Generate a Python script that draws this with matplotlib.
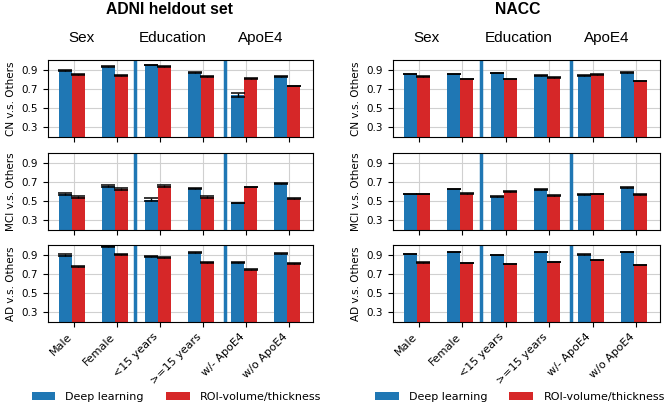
import matplotlib
matplotlib.use("Agg")
import matplotlib.pyplot as plt
import numpy as np

groups = ["Male", "Female", "<15 years", ">=15 years", "w/- ApoE4", "w/o ApoE4"]
tasks = ["CN v.s. Others", "MCI v.s. Others", "AD v.s. Others"]

# ADNI heldout set (rows: CN, MCI, AD)
adni_dl = [[0.89, 0.93, 0.95, 0.87, 0.64, 0.83],
           [0.575, 0.655, 0.515, 0.633, 0.48, 0.685],
           [0.90, 0.985, 0.885, 0.92, 0.82, 0.91]]
adni_dl_err = [[0.005, 0.003, 0.003, 0.006, 0.02, 0.006],
               [0.012, 0.012, 0.018, 0.004, 0.003, 0.004],
               [0.01, 0.004, 0.005, 0.004, 0.006, 0.006]]
adni_roi = [[0.85, 0.84, 0.935, 0.83, 0.81, 0.73],
            [0.545, 0.63, 0.66, 0.545, 0.645, 0.527],
            [0.775, 0.905, 0.87, 0.82, 0.745, 0.81]]
adni_roi_err = [[0.004, 0.006, 0.005, 0.008, 0.005, 0.002],
                [0.01, 0.01, 0.012, 0.01, 0.003, 0.003],
                [0.004, 0.005, 0.005, 0.003, 0.005, 0.003]]

# NACC
nacc_dl = [[0.855, 0.855, 0.865, 0.84, 0.84, 0.87],
           [0.577, 0.623, 0.545, 0.623, 0.57, 0.64],
           [0.907, 0.925, 0.894, 0.925, 0.90, 0.925]]
nacc_dl_err = [[0.003, 0.003, 0.002, 0.002, 0.002, 0.002],
               [0.002, 0.002, 0.005, 0.005, 0.002, 0.003],
               [0.002, 0.002, 0.002, 0.002, 0.002, 0.002]]
nacc_roi = [[0.83, 0.80, 0.80, 0.82, 0.85, 0.785],
            [0.577, 0.577, 0.60, 0.555, 0.577, 0.57],
            [0.82, 0.81, 0.80, 0.825, 0.845, 0.79]]
nacc_roi_err = [[0.002, 0.002, 0.002, 0.002, 0.002, 0.002],
                [0.002, 0.006, 0.006, 0.004, 0.002, 0.002],
                [0.002, 0.002, 0.002, 0.002, 0.002, 0.002]]

datasets = [("ADNI heldout set", adni_dl, adni_dl_err, adni_roi, adni_roi_err),
            ("NACC", nacc_dl, nacc_dl_err, nacc_roi, nacc_roi_err)]

W, H = 669, 403
fig = plt.figure(figsize=(W / 100, H / 100), dpi=100)

col_left = [48, 393]
col_width = [265, 267]
row_top = [60, 153, 245]
row_h = 77
title_x = [170, 518]
legend_x = [0.485, 0.475]

x = np.arange(len(groups))
w = 0.3
ekw = dict(ecolor="black", elinewidth=1, capthick=1.1)
for c, (name, dl, dl_err, roi, roi_err) in enumerate(datasets):
    for r in range(3):
        ax = fig.add_axes([col_left[c] / W, 1 - (row_top[r] + row_h) / H,
                           col_width[c] / W, row_h / H])
        ax.set_axisbelow(True)
        ax.grid(True, color="#d0d0d0", linewidth=0.8)
        ax.bar(x - 0.2, dl[r], w, yerr=dl_err[r], color="tab:blue",
               capsize=5, error_kw=ekw, label="Deep learning")
        ax.bar(x + 0.1, roi[r], w, yerr=roi_err[r], color="tab:red",
               capsize=5, error_kw=ekw, label="ROI-volume/thickness")
        ax.axvline(1.43, color="tab:blue", linewidth=2.5)
        ax.axvline(3.5, color="tab:blue", linewidth=2.5)
        ax.set_xlim(-0.6, 5.55)
        ax.set_ylim(0.2, 1.0)
        ax.set_yticks([0.3, 0.5, 0.7, 0.9])
        ax.tick_params(axis="y", labelsize=7.5)
        ax.set_xticks(x)
        ax.set_ylabel(tasks[r], fontsize=7.5)
        if r < 2:
            ax.set_xticklabels([])
        else:
            ax.set_xticklabels(groups, rotation=45, ha="right", fontsize=8)
            ax.legend(loc="center", bbox_to_anchor=(legend_x[c], -0.97), ncol=2,
                      frameon=False, fontsize=8, handlelength=2.15,
                      handletextpad=0.9, columnspacing=2.0)
        if r == 0:
            for xpos, lab in [(0.17, "Sex"), (2.3, "Education"), (4.33, "ApoE4")]:
                ax.text(xpos, 1.29, lab, transform=ax.get_xaxis_transform(),
                        ha="center", va="center", fontsize=11,
                        family="Liberation Sans")
    fig.text(title_x[c] / W, 1 - 9 / H, name, ha="center", va="center",
             fontsize=11.3, fontweight="bold", family="Liberation Sans")

fig.savefig("out.png", dpi=100)
